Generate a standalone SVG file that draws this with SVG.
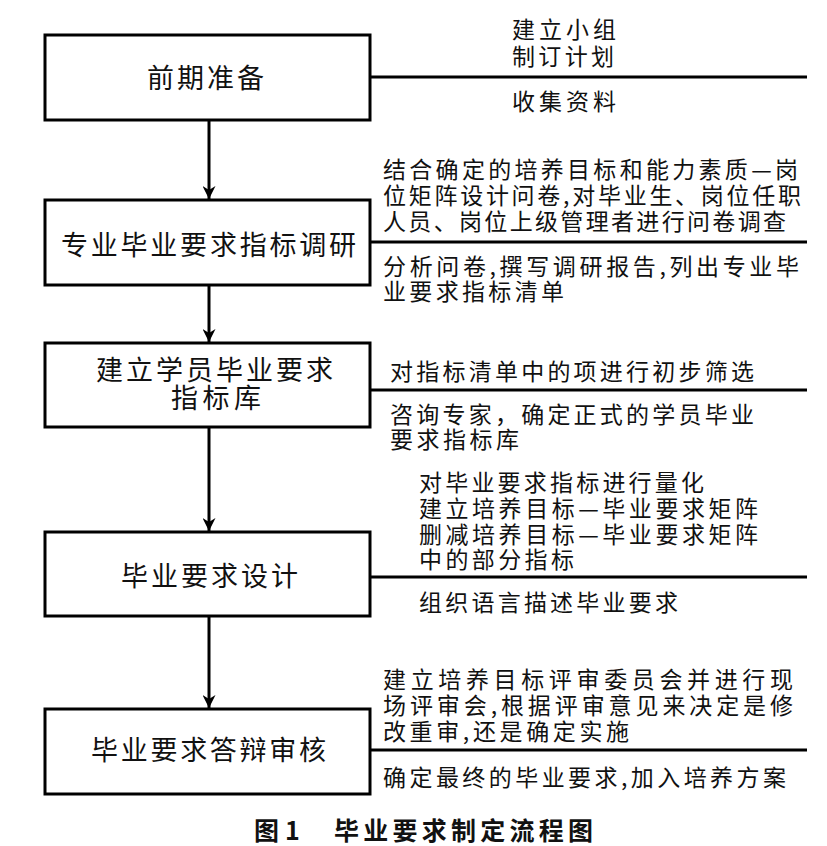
<svg xmlns="http://www.w3.org/2000/svg" width="827" height="846" viewBox="0 0 827 846">
<style>
.box{fill:#fff;stroke:#000;stroke-width:3}
.ln{fill:none;stroke:#000;stroke-width:3}
.bt{font-family:"Noto Sans CJK SC","Noto Sans",sans-serif;font-size:27px;fill:#111}
.st{font-family:"Noto Sans CJK SC","Noto Sans",sans-serif;font-size:23px;fill:#111}
.cap{font-family:"Noto Sans CJK SC","Noto Sans",sans-serif;font-size:25px;font-weight:bold;fill:#111}
</style>
<defs>
<marker id="ah" markerUnits="userSpaceOnUse" viewBox="0 0 13 13" refX="13" refY="6.5" markerWidth="13" markerHeight="13" orient="auto">
<path d="M0,0 L13,6.5 L0,13 L4,6.5 Z" fill="#000"/>
</marker>
</defs>
<rect width="827" height="846" fill="#fff"/>
<g id="connectors">
<line class="ln" x1="209" y1="120" x2="209" y2="199" marker-end="url(#ah)"/>
<line class="ln" x1="209" y1="285" x2="209" y2="342" marker-end="url(#ah)"/>
<line class="ln" x1="209" y1="427" x2="209" y2="531" marker-end="url(#ah)"/>
<line class="ln" x1="209" y1="616" x2="209" y2="708" marker-end="url(#ah)"/>
<line class="ln" x1="370" y1="77" x2="807" y2="77"/>
<line class="ln" x1="370" y1="242" x2="807" y2="242"/>
<line class="ln" x1="370" y1="390" x2="807" y2="390"/>
<line class="ln" x1="370" y1="577" x2="807" y2="577"/>
<line class="ln" x1="370" y1="750" x2="807" y2="750"/>
</g>
<g id="n1">
<rect class="box" x="45" y="35" width="325" height="85"/>
<text class="bt" x="147" y="88" textLength="117" lengthAdjust="spacing">前期准备</text>
</g>
<g id="n1-notes">
<text class="st" x="512" y="38" textLength="104" lengthAdjust="spacing">建立小组</text>
<text class="st" x="512" y="65" textLength="102" lengthAdjust="spacing">制订计划</text>
<text class="st" x="512" y="110" textLength="104" lengthAdjust="spacing">收集资料</text>
</g>
<g id="n2">
<rect class="box" x="45" y="200" width="325" height="85"/>
<text class="bt" x="61" y="255" textLength="295" lengthAdjust="spacing">专业毕业要求指标调研</text>
</g>
<g id="n2-notes">
<text class="st" x="383" y="178" textLength="415" lengthAdjust="spacing">结合确定的培养目标和能力素质—岗</text>
<text class="st" x="383" y="204" textLength="418" lengthAdjust="spacing">位矩阵设计问卷,对毕业生、岗位任职</text>
<text class="st" x="383" y="230" textLength="403" lengthAdjust="spacing">人员、岗位上级管理者进行问卷调查</text>
<text class="st" x="383" y="275" textLength="416" lengthAdjust="spacing">分析问卷,撰写调研报告,列出专业毕</text>
<text class="st" x="383" y="300" textLength="181" lengthAdjust="spacing">业要求指标清单</text>
</g>
<g id="n3">
<rect class="box" x="45" y="343" width="325" height="84"/>
<text class="bt" x="96" y="380" textLength="237" lengthAdjust="spacing">建立学员毕业要求</text>
<text class="bt" x="171" y="408" textLength="90" lengthAdjust="spacing">指标库</text>
</g>
<g id="n3-notes">
<text class="st" x="390" y="380" textLength="364" lengthAdjust="spacing">对指标清单中的项进行初步筛选</text>
<text class="st" x="390" y="423" textLength="364" lengthAdjust="spacing">咨询专家，确定正式的学员毕业</text>
<text class="st" x="390" y="448" textLength="129" lengthAdjust="spacing">要求指标库</text>
</g>
<g id="n4">
<rect class="box" x="45" y="532" width="325" height="84"/>
<text class="bt" x="121" y="586" textLength="177" lengthAdjust="spacing">毕业要求设计</text>
</g>
<g id="n4-notes">
<text class="st" x="419" y="491" textLength="285" lengthAdjust="spacing">对毕业要求指标进行量化</text>
<text class="st" x="419" y="517" textLength="339" lengthAdjust="spacing">建立培养目标—毕业要求矩阵</text>
<text class="st" x="419" y="543" textLength="339" lengthAdjust="spacing">删减培养目标—毕业要求矩阵</text>
<text class="st" x="419" y="568" textLength="155" lengthAdjust="spacing">中的部分指标</text>
<text class="st" x="419" y="611" textLength="259" lengthAdjust="spacing">组织语言描述毕业要求</text>
</g>
<g id="n5">
<rect class="box" x="45" y="709" width="325" height="85"/>
<text class="bt" x="91" y="760" textLength="235" lengthAdjust="spacing">毕业要求答辩审核</text>
</g>
<g id="n5-notes">
<text class="st" x="383" y="688" textLength="410" lengthAdjust="spacing">建立培养目标评审委员会并进行现</text>
<text class="st" x="383" y="714" textLength="410" lengthAdjust="spacing">场评审会,根据评审意见来决定是修</text>
<text class="st" x="383" y="740" textLength="246" lengthAdjust="spacing">改重审,还是确定实施</text>
<text class="st" x="383" y="786" textLength="403" lengthAdjust="spacing">确定最终的毕业要求,加入培养方案</text>
</g>
<g id="caption">
<text class="cap" x="254" y="840">图<tspan x="285">1</tspan></text>
<text class="cap" x="334" y="840" textLength="259" lengthAdjust="spacing">毕业要求制定流程图</text>
</g>
</svg>
